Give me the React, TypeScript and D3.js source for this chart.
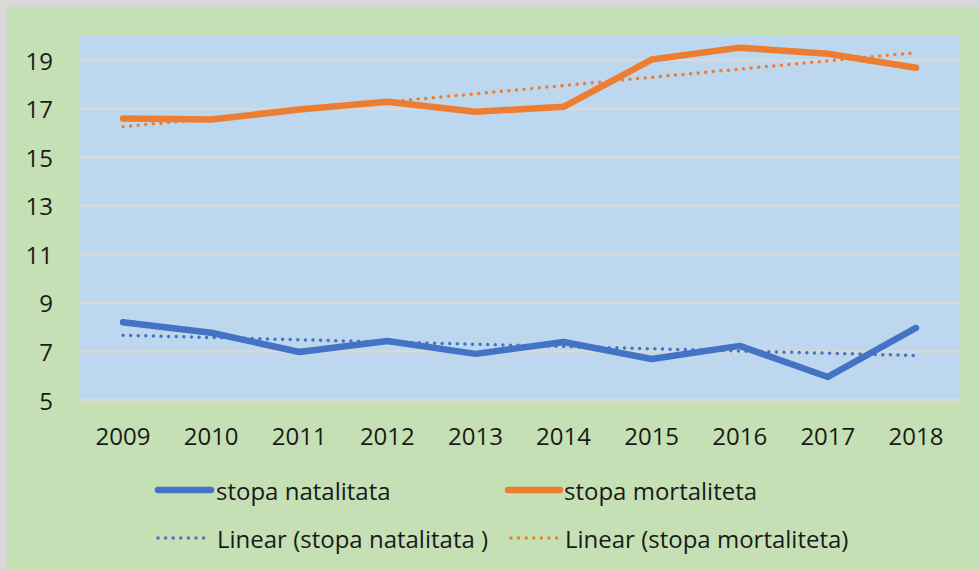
import React from "react";
import * as d3 from "d3";

const years = ["2009", "2010", "2011", "2012", "2013", "2014", "2015", "2016", "2017", "2018"];
const natalitet = [8.2, 7.77, 6.98, 7.43, 6.9, 7.39, 6.69, 7.23, 5.95, 7.97];
const mortalitet = [16.6, 16.56, 16.97, 17.29, 16.88, 17.08, 19.03, 19.52, 19.27, 18.69];
const yTicks = [5, 7, 9, 11, 13, 15, 17, 19];
const legendLabels = [
  "stopa natalitata",
  "stopa mortaliteta",
  "Linear (stopa natalitata )",
  "Linear (stopa mortaliteta)",
];

const W = 979;
const H = 569;
const FONT = "'Open Sans', sans-serif";
const BLUE = "#4472c4";
const ORANGE = "#ed7d31";

function trend(vals: number[]): number[] {
  const n = vals.length;
  const xs = vals.map((_, i) => i);
  const mx = d3.mean(xs) as number;
  const my = d3.mean(vals) as number;
  let num = 0;
  let den = 0;
  xs.forEach((x, i) => {
    num += (x - mx) * (vals[i] - my);
    den += (x - mx) * (x - mx);
  });
  const b = num / den;
  const a = my - b * mx;
  return xs.map((x) => a + b * x);
}

export default function App() {
  const left = 79;
  const right = 960;
  const top = 36;
  const bottom = 400;

  const x = d3.scaleBand<string>().domain(years).range([left, right]).paddingInner(0).paddingOuter(0);
  const y = d3.scaleLinear().domain([5, 20]).range([bottom, top]);
  const cx = (i: number) => (x(years[i]) as number) + x.bandwidth() / 2;

  const line = d3
    .line<number>()
    .x((_, i) => cx(i))
    .y((d) => y(d));

  const natTrend = trend(natalitet);
  const mortTrend = trend(mortalitet);

  return (
    <div>
      <style>{`body{margin:0}`}</style>
      <svg width={W} height={H} style={{ display: "block" }}>
        <rect x={0} y={0} width={W} height={H} fill="#d9d9d9" />
        <rect x={7} y={7} width={W - 7} height={H - 7} fill="#c5e0b4" />
        <rect x={left} y={top} width={right - left} height={bottom - top + 2} fill="#bdd7ee" />
        {yTicks.map((t) => (
          <line key={t} x1={left} x2={right} y1={y(t)} y2={y(t)} stroke="#d9d9d9" strokeWidth={2.5} />
        ))}
        {yTicks.map((t) => (
          <text
            key={"l" + t}
            x={53}
            y={y(t)}
            textAnchor="end"
            dominantBaseline="central"
            fontFamily={FONT}
            fontSize={24}
            fill="#1a1a1a"
          >
            {t}
          </text>
        ))}
        {years.map((yr, i) => (
          <text
            key={yr}
            x={cx(i)}
            y={435}
            textAnchor="middle"
            dominantBaseline="central"
            fontFamily={FONT}
            fontSize={24}
            fill="#1a1a1a"
          >
            {yr}
          </text>
        ))}
        <path d={line(natTrend) as string} fill="none" stroke={BLUE} strokeWidth={3.5} strokeLinecap="round" strokeDasharray="0 7.6" />
        <path d={line(mortTrend) as string} fill="none" stroke={ORANGE} strokeWidth={3.5} strokeLinecap="round" strokeDasharray="0 7.6" />
        <path d={line(natalitet) as string} fill="none" stroke={BLUE} strokeWidth={6.5} strokeLinecap="round" strokeLinejoin="round" />
        <path d={line(mortalitet) as string} fill="none" stroke={ORANGE} strokeWidth={6.5} strokeLinecap="round" strokeLinejoin="round" />

        {/* legend */}
        <line x1={158} x2={211} y1={490} y2={490} stroke={BLUE} strokeWidth={6.5} strokeLinecap="round" />
        <text x={216} y={490} dominantBaseline="central" fontFamily={FONT} fontSize={24} fill="#1a1a1a">
          {legendLabels[0]}
        </text>
        <line x1={508} x2={560} y1={490} y2={490} stroke={ORANGE} strokeWidth={6.5} strokeLinecap="round" />
        <text x={564} y={490} dominantBaseline="central" fontFamily={FONT} fontSize={24} fill="#1a1a1a">
          {legendLabels[1]}
        </text>
        <line x1={158} x2={208} y1={538} y2={538} stroke={BLUE} strokeWidth={3.5} strokeLinecap="round" strokeDasharray="0 7.6" />
        <text x={217} y={538} dominantBaseline="central" fontFamily={FONT} fontSize={24} fill="#1a1a1a">
          {legendLabels[2]}
        </text>
        <line x1={511} x2={557} y1={538} y2={538} stroke={ORANGE} strokeWidth={3.5} strokeLinecap="round" strokeDasharray="0 7.6" />
        <text x={565} y={538} dominantBaseline="central" fontFamily={FONT} fontSize={24} fill="#1a1a1a">
          {legendLabels[3]}
        </text>
      </svg>
    </div>
  );
}
